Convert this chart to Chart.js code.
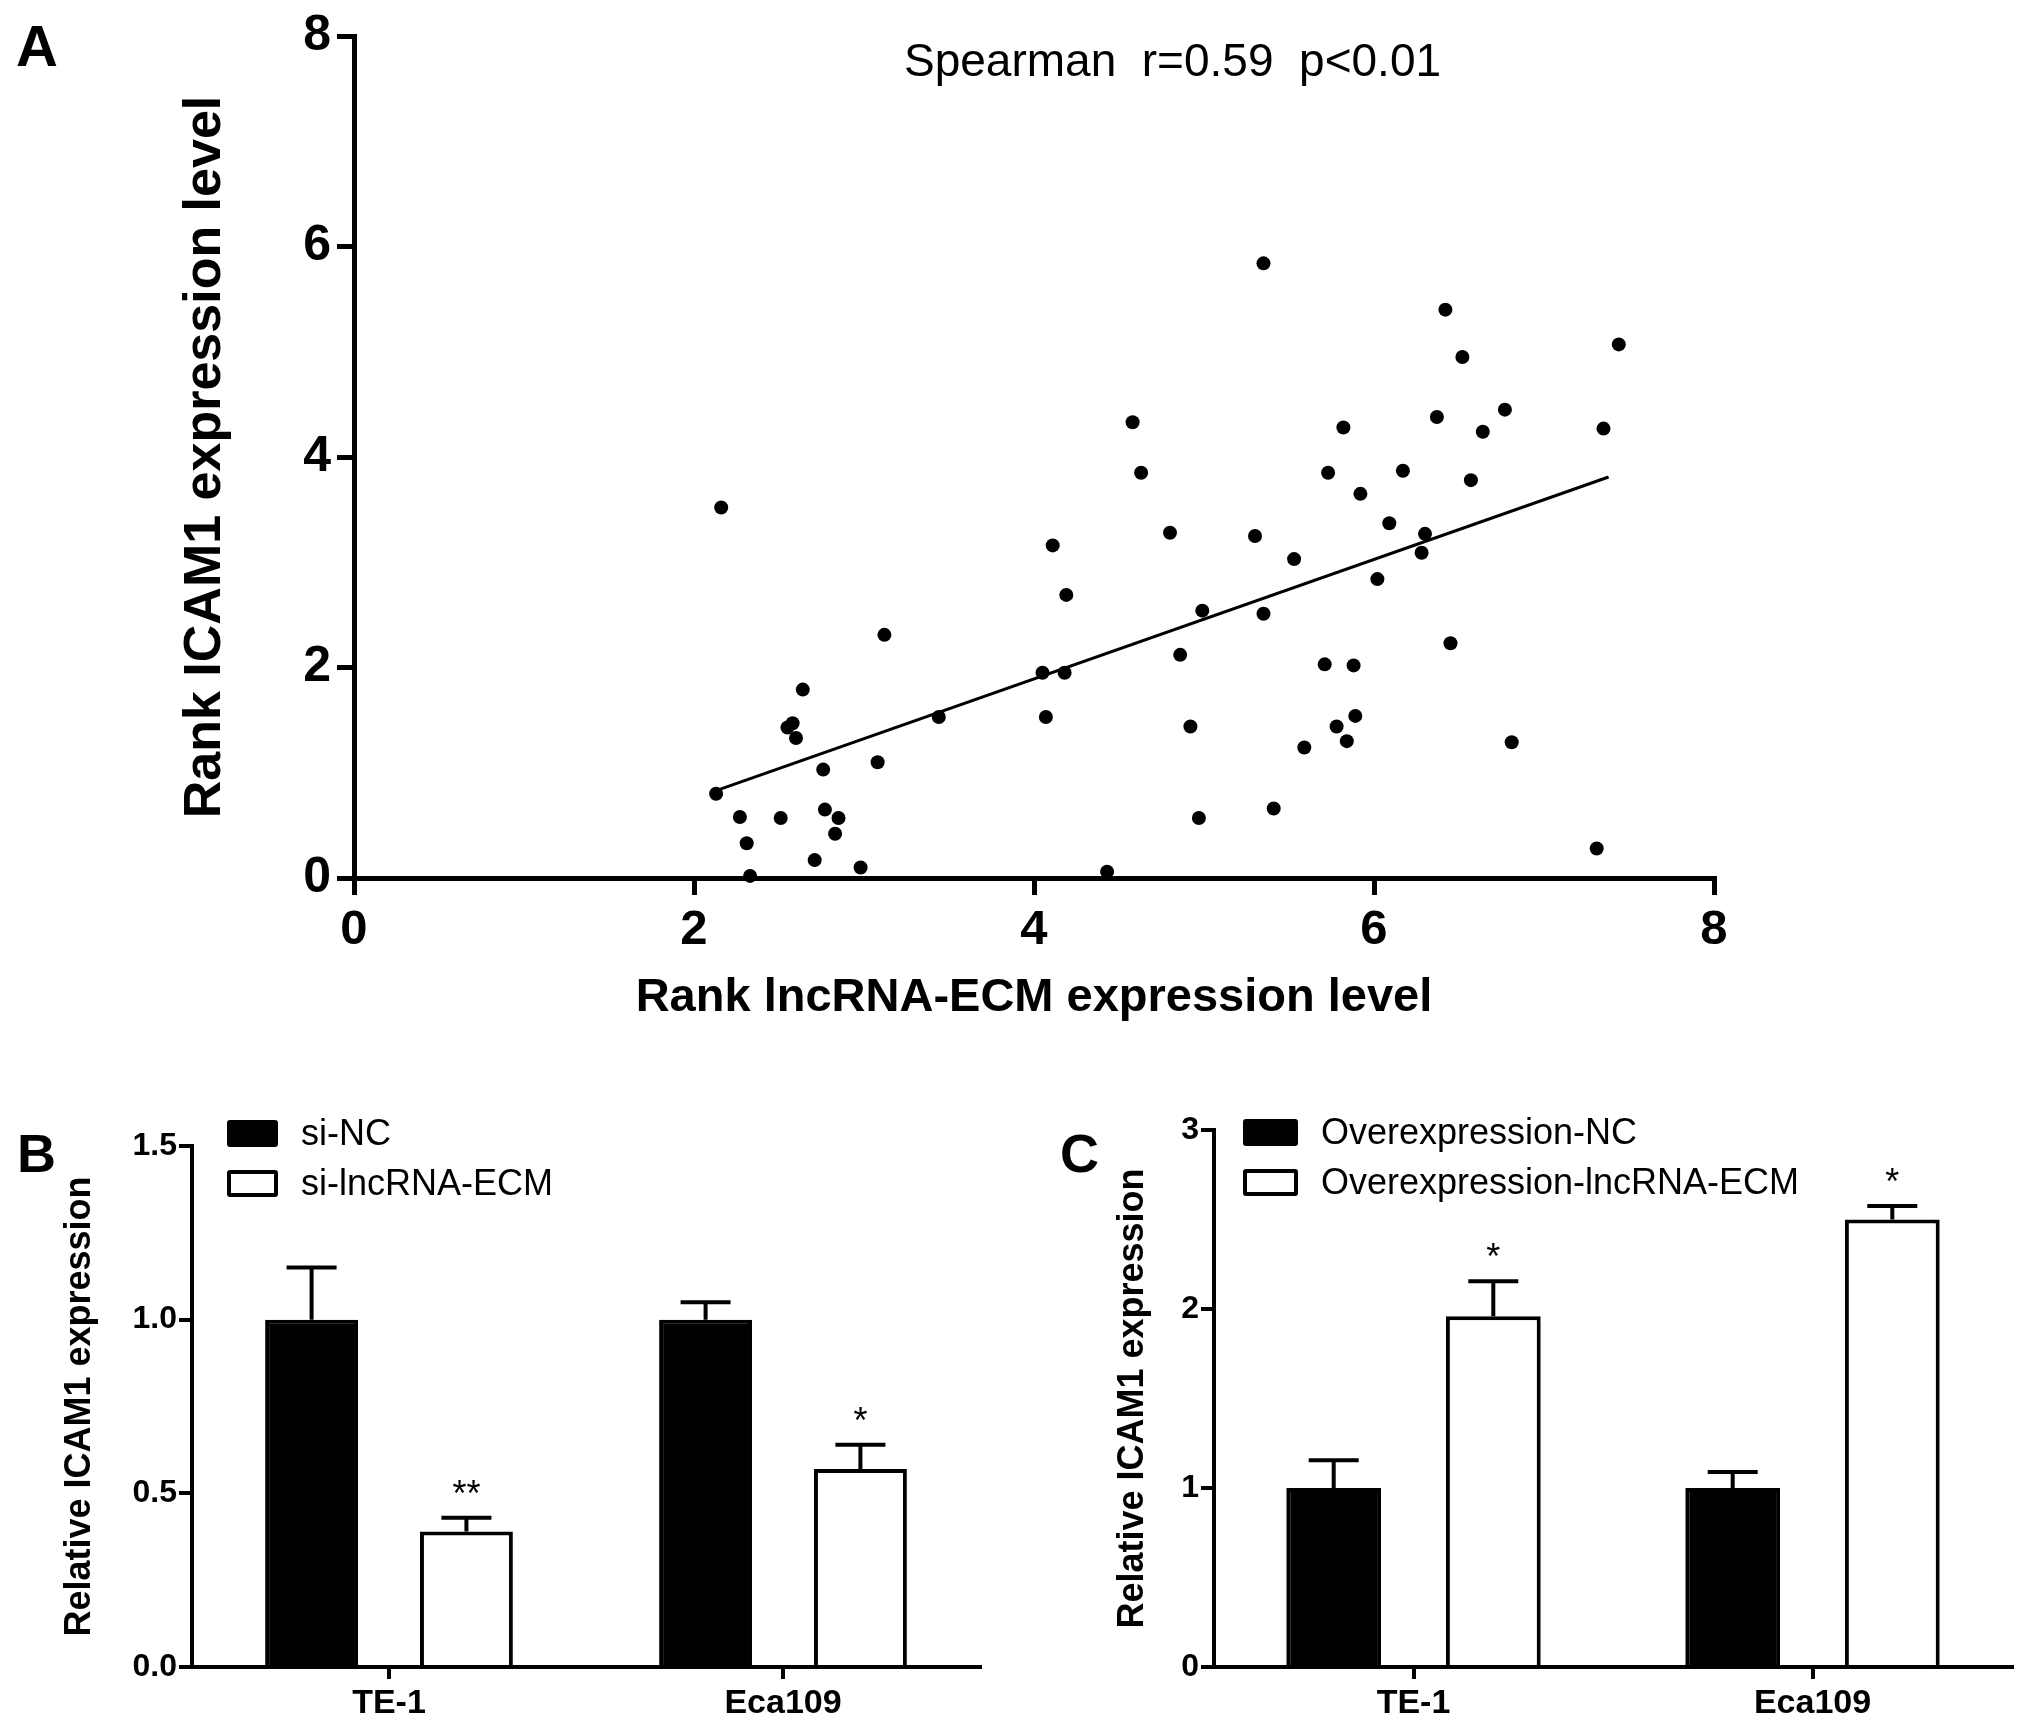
<!DOCTYPE html>
<html lang="en">
<head>
<meta charset="UTF-8">
<title>lncRNA-ECM and ICAM1 expression</title>
<script src="https://cdn.jsdelivr.net/npm/chart.js"></script>
<style>
  body { margin: 0; background: #fff; }
  #figure { position: relative; width: 2031px; height: 1729px; background: #fff; color: #000;
            font-family: 'Liberation Sans', Arial, sans-serif; overflow: hidden; }
  canvas { position: absolute; }
  .letter { position: absolute; font-weight: bold; font-size: 58px; line-height: 58px; }
  .note { position: absolute; font-size: 46px; line-height: 46px; white-space: pre; }
  .legend { position: absolute; font-size: 36px; }
  .legend .row { display: flex; align-items: center; height: 50px; }
  .legend .box { box-sizing: border-box; height: 27px; border: 4px solid #000; border-radius: 3px; margin-right: 23px; }
</style>
</head>
<body>
<div id="figure">
  <canvas id="chartA" width="1800" height="1080" style="left:0;top:0"></canvas>
  <canvas id="chartB" width="1020" height="649" style="left:0;top:1080px"></canvas>
  <canvas id="chartC" width="971" height="649" style="left:1060px;top:1080px"></canvas>

  <div class="letter" style="left:16px;top:17px">A</div>
  <div class="letter" style="left:17px;top:1126px;font-size:54px;line-height:54px">B</div>
  <div class="letter" style="left:1060px;top:1126px;font-size:54px;line-height:54px">C</div>
  <div class="note" style="left:904px;top:37px">Spearman  r=0.59  p&lt;0.01</div>

  <div class="legend" style="left:227px;top:1108px">
    <div class="row"><span class="box" style="width:51px;background:#000"></span>si-NC</div>
    <div class="row"><span class="box" style="width:51px;background:#fff"></span>si-lncRNA-ECM</div>
  </div>
  <div class="legend" style="left:1243px;top:1107px">
    <div class="row"><span class="box" style="width:55px;background:#000"></span>Overexpression-NC</div>
    <div class="row"><span class="box" style="width:55px;background:#fff"></span>Overexpression-lncRNA-ECM</div>
  </div>
</div>

<script>
// ---- Panel A: rank correlation ----
const rankLnc = [2.16, 2.13, 2.27, 2.31, 2.33, 2.51, 2.55, 2.58, 2.60, 2.64, 2.71, 2.76, 2.77, 2.85, 2.83,
                 2.98, 3.08, 3.12, 3.44, 4.05, 4.07, 4.18, 4.11, 4.19, 4.43,
                 5.35, 6.42, 7.44, 6.52, 4.58, 5.82, 6.37, 6.64, 6.77, 7.35, 4.63, 5.73, 6.17, 6.57,
                 5.92, 6.09, 4.80, 5.30, 6.30, 6.28, 5.53, 6.02, 4.99, 5.35, 4.86, 6.45, 5.71, 5.88,
                 4.92, 5.89, 5.78, 5.84, 5.59, 6.81, 4.97, 5.41, 7.31];
const rankIcam = [3.52, 0.80, 0.58, 0.33, 0.02, 0.57, 1.43, 1.47, 1.33, 1.79, 0.17, 1.03, 0.65, 0.57, 0.42,
                  0.10, 1.10, 2.31, 1.53, 1.95, 1.53, 1.95, 3.16, 2.69, 0.06,
                  5.84, 5.40, 5.07, 4.95, 4.33, 4.28, 4.38, 4.24, 4.45, 4.27, 3.85, 3.85, 3.87, 3.78,
                  3.65, 3.37, 3.28, 3.25, 3.27, 3.09, 3.03, 2.84, 2.54, 2.51, 2.12, 2.23, 2.03, 2.02,
                  1.44, 1.54, 1.44, 1.30, 1.24, 1.29, 0.57, 0.66, 0.28];
// fitted line end points
const fitX = [2.13, 7.38];
const fitY = [0.83, 3.81];

// ---- Panel B: knockdown ----
const cellLines = ['TE-1', 'Eca109'];
const siNC = [1.0, 1.0];
const siNCErr = [0.15, 0.05];
const siLnc = [0.39, 0.57];
const siLncErr = [0.04, 0.07];
const siLncSig = ['**', '*'];

// ---- Panel C: overexpression ----
const oeNC = [1.0, 1.0];
const oeNCErr = [0.155, 0.09];
const oeLnc = [1.96, 2.50];
const oeLncErr = [0.195, 0.075];
const oeLncSig = ['*', '*'];

Chart.defaults.font.family = "'Liberation Sans', Arial, sans-serif";
Chart.defaults.color = '#000';

// one-sided error bars + significance marks drawn from the bar elements
const errorBars = {
    id: 'errorBars',
    afterDatasetsDraw(chart) {
        const ctx = chart.ctx;
        const y = chart.scales.y;
        chart.data.datasets.forEach((ds, di) => {
            if (!ds.errors) return;
            chart.getDatasetMeta(di).data.forEach((bar, i) => {
                const top = y.getPixelForValue(ds.data[i] + ds.errors[i]);
                ctx.save();
                ctx.strokeStyle = '#000';
                ctx.lineWidth = 4;
                ctx.beginPath();
                ctx.moveTo(bar.x, bar.y);
                ctx.lineTo(bar.x, top);
                ctx.moveTo(bar.x - 25, top);
                ctx.lineTo(bar.x + 25, top);
                ctx.stroke();
                if (ds.sig && ds.sig[i]) {
                    ctx.fillStyle = '#000';
                    ctx.font = "36px 'Liberation Sans', Arial, sans-serif";
                    ctx.textAlign = 'center';
                    ctx.textBaseline = 'alphabetic';
                    ctx.fillText(ds.sig[i], bar.x, top - 12);
                }
                ctx.restore();
            });
        });
    }
};

new Chart(document.getElementById('chartA'), {
    type: 'scatter',
    data: {
        datasets: [{
            data: rankLnc.map((x, i) => ({ x: x, y: rankIcam[i] })),
            backgroundColor: '#000',
            borderWidth: 0,
            pointRadius: 7,
            pointHoverRadius: 7,
            clip: false
        }, {
            type: 'line',
            data: fitX.map((x, i) => ({ x: x, y: fitY[i] })),
            borderColor: '#000',
            borderWidth: 3,
            pointRadius: 0,
            fill: false,
            clip: false
        }]
    },
    options: {
        responsive: false,
        animation: false,
        devicePixelRatio: 1,
        layout: { padding: { top: 35, right: 86, left: 0, bottom: 0 } },
        plugins: { legend: { display: false }, tooltip: { enabled: false } },
        scales: {
            x: {
                type: 'linear', min: 0, max: 8,
                ticks: { stepSize: 2, font: { size: 49, weight: 'bold' }, padding: 6 },
                grid: { drawOnChartArea: false, tickLength: 17, lineWidth: 5, color: '#000' },
                border: { width: 5, color: '#000' },
                title: { display: true, text: 'Rank lncRNA-ECM expression level',
                         font: { size: 47, weight: 'bold' }, padding: { top: 0, bottom: 54 } },
                afterFit(s) { s.height = 202; }
            },
            y: {
                min: 0, max: 8,
                ticks: { stepSize: 2, font: { size: 50, weight: 'bold' }, padding: 6 },
                grid: { drawOnChartArea: false, tickLength: 17, lineWidth: 5, color: '#000' },
                border: { width: 5, color: '#000' },
                title: { display: true, text: 'Rank ICAM1 expression level',
                         font: { size: 52, weight: 'bold' }, padding: { top: 174, bottom: 0 } },
                afterFit(s) { s.width = 354; }
            }
        }
    }
});

function barChart(id, opts) {
    return new Chart(document.getElementById(id), {
        type: 'bar',
        data: {
            labels: cellLines,
            datasets: [{
                data: opts.a, errors: opts.aErr,
                backgroundColor: '#000', borderColor: '#000', borderWidth: 4,
                barPercentage: opts.barPct, categoryPercentage: opts.catPct
            }, {
                data: opts.b, errors: opts.bErr, sig: opts.bSig,
                backgroundColor: '#fff', borderColor: '#000', borderWidth: 4,
                barPercentage: opts.barPct, categoryPercentage: opts.catPct
            }]
        },
        options: {
            responsive: false,
            animation: false,
            devicePixelRatio: 1,
            layout: { padding: opts.padding },
            plugins: { legend: { display: false }, tooltip: { enabled: false } },
            scales: {
                x: {
                    ticks: { font: { size: 34, weight: 'bold' }, padding: 4 },
                    grid: { offset: false, drawOnChartArea: false, tickLength: 12, lineWidth: 4, color: '#000' },
                    border: { width: 4, color: '#000' },
                    afterFit(s) { s.height = 62; }
                },
                y: {
                    min: 0, max: opts.max,
                    ticks: { stepSize: opts.step, font: { size: 32, weight: 'bold' }, padding: 2,
                             callback: v => v.toFixed(opts.digits) },
                    grid: { drawOnChartArea: false, tickLength: 13, lineWidth: 4, color: '#000' },
                    border: { width: 4, color: '#000' },
                    title: { display: true, text: 'Relative ICAM1 expression',
                             font: { size: 36, weight: 'bold' }, padding: { top: opts.titlePad, bottom: 0 } },
                    afterFit(s) { s.width = opts.axisLeft; }
                }
            }
        },
        plugins: [errorBars]
    });
}

barChart('chartB', {
    a: siNC, aErr: siNCErr, b: siLnc, bErr: siLncErr, bSig: siLncSig,
    max: 1.5, step: 0.5, digits: 1, axisLeft: 192, titlePad: 58, catPct: 0.786, barPct: 0.60,
    padding: { top: 66, right: 40, left: 0, bottom: 0 }
});

barChart('chartC', {
    a: oeNC, aErr: oeNCErr, b: oeLnc, bErr: oeLncErr, bSig: oeLncSig,
    max: 3, step: 1, digits: 0, axisLeft: 154, titlePad: 51, catPct: 0.80, barPct: 0.594,
    padding: { top: 50, right: 19, left: 0, bottom: 0 }
});
</script>
</body>
</html>
